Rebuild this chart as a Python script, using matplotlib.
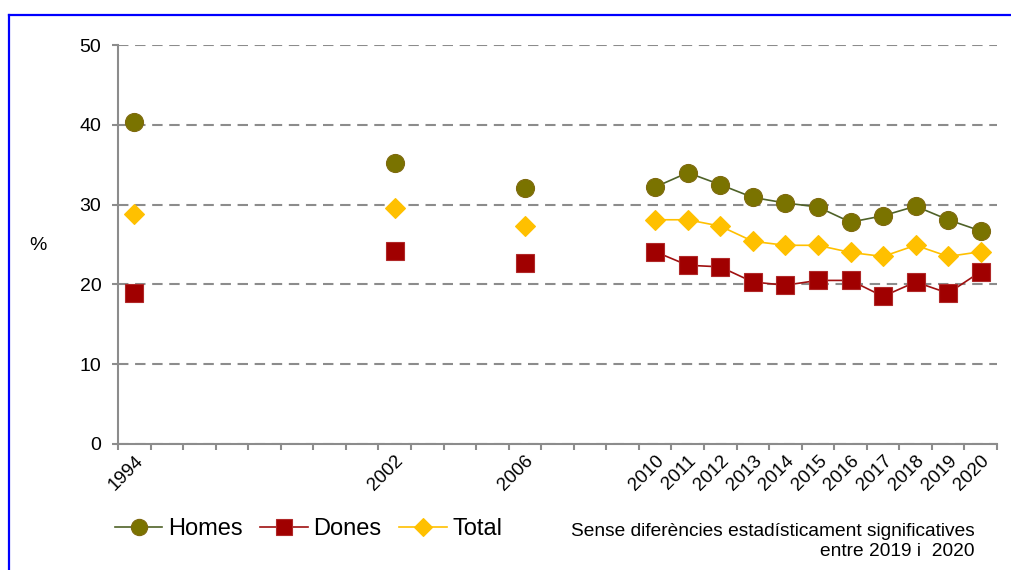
import numpy as np
import matplotlib.pyplot as plt
from matplotlib.lines import Line2D

plt.rcParams['font.family'] = ['Liberation Sans', 'DejaVu Sans']

years = [1994, 2002, 2006, 2010, 2011, 2012, 2013, 2014, 2015, 2016, 2017, 2018, 2019, 2020]
homes = [40.4, 35.2, 32.1, 32.2, 34.0, 32.5, 30.9, 30.2, 29.7, 27.8, 28.6, 29.8, 28.1, 26.7]
dones = [18.9, 24.2, 22.7, 24.1, 22.4, 22.2, 20.3, 19.9, 20.5, 20.5, 18.5, 20.3, 18.9, 21.6]
total = [28.8, 29.6, 27.3, 28.1, 28.1, 27.3, 25.4, 24.9, 24.9, 24.0, 23.5, 24.9, 23.5, 24.1]
y_ticks = [0, 10, 20, 30, 40, 50]
note = ["Sense diferències estadísticament significatives", "entre 2019 i  2020"]

# (name, values, line colour, marker, marker fill, marker edge, marker size)
series = [
    ("Homes", homes, '#4F6228', 'o', '#7A7300', '#7F6A10', 13),
    ("Dones", dones, '#A01010', 's', '#A00000', '#B02828', 13),
    ("Total", total, '#FFC000', 'D', '#FFC000', '#FFC000', 10.5),
]

fig = plt.figure(figsize=(10.11, 5.70), dpi=100)
ax = fig.add_axes([118/1011, 1 - 444/570, (997 - 118)/1011, (444 - 45)/570])

handles = []
for name, vals, lc, mk, mfc, mec, ms in series:
    # the yearly series (2010 onwards) is joined by a line, older surveys are single points
    ax.plot(years[3:], vals[3:], color=lc, lw=1.2, zorder=2)
    ax.plot(years, vals, ls='none', marker=mk, ms=ms, mfc=mfc, mec=mec, mew=0.8, zorder=3)
    handles.append(Line2D([], [], color=lc, lw=1.2, marker=mk, ms=ms * 0.9,
                          mfc=mfc, mec=mec, mew=0.8, label=name))

ax.set_xlim(1993.5, 2020.5)
ax.set_ylim(0, 50)
ax.set_yticks(y_ticks)
ax.set_yticklabels([str(v) for v in y_ticks])
ax.set_xticks(years)
ax.set_xticklabels([str(y) for y in years], rotation=45, ha='right', va='top',
                   rotation_mode='anchor')
ax.set_xticks(np.arange(1993.5, 2021, 1), minor=True)

grey = '#8C8C8C'
ax.grid(axis='y', color=grey, lw=1.5, ls=(0, (5, 3.2)))
ax.set_axisbelow(True)
for side in ['top', 'right']:
    ax.spines[side].set_visible(False)
for side in ['left', 'bottom']:
    ax.spines[side].set_color(grey)
    ax.spines[side].set_linewidth(1.5)
    ax.spines[side].set_zorder(4)

ax.tick_params(axis='y', length=4, width=1.5, color=grey, pad=8, labelsize=14)
ax.tick_params(axis='x', which='major', length=0, pad=6, labelsize=13.5)
ax.tick_params(axis='x', which='minor', length=4, width=1.5, color=grey)

fig.text(38/1011, 1 - 245/570, '%', ha='center', va='center', fontsize=14)

fig.legend(handles=handles, loc='center left', bbox_to_anchor=(115/1011, 1 - 529/570),
           ncol=3, frameon=False, fontsize=17, handlelength=2.0, handletextpad=0.25,
           columnspacing=0.75, borderpad=0, borderaxespad=0)

fig.text(975/1011, 1 - 532/570, note[0], ha='right', va='center', fontsize=13.8)
fig.text(975/1011, 1 - 552/570, note[1], ha='right', va='center', fontsize=13.8)

# blue frame (top and left edges visible)
fig.add_artist(Line2D([9/1011, 1.01], [1 - 15/570, 1 - 15/570], color='#0000FF', lw=1.6,
                      transform=fig.transFigure))
fig.add_artist(Line2D([9/1011, 9/1011], [-0.01, 1 - 15/570], color='#0000FF', lw=1.6,
                      transform=fig.transFigure))

fig.savefig('out.png', dpi=100)
